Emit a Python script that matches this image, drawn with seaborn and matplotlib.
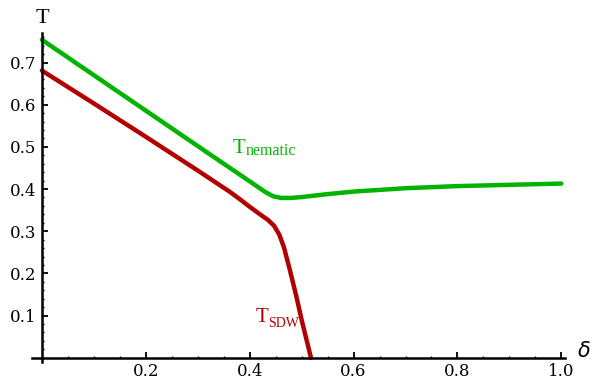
import numpy as np
import pandas as pd
import matplotlib
matplotlib.use("Agg")
from matplotlib import pyplot as plt
from matplotlib.ticker import MultipleLocator, FixedLocator
import seaborn as sns

# values
delta_nem = [0.0, 0.1, 0.2, 0.3, 0.38, 0.41, 0.43, 0.445, 0.46, 0.48, 0.5, 0.55, 0.6, 0.7, 0.8, 0.9, 1.0]
t_nem = [0.754, 0.670, 0.586, 0.502, 0.435, 0.410, 0.393, 0.383, 0.379, 0.379, 0.381, 0.388, 0.394, 0.402, 0.407, 0.410, 0.413]

delta_sdw = [0.0, 0.1, 0.2, 0.3, 0.36, 0.38, 0.40, 0.42, 0.435, 0.447, 0.457, 0.466, 0.477, 0.49, 0.5, 0.518]
t_sdw = [0.681, 0.603, 0.524, 0.444, 0.395, 0.377, 0.358, 0.340, 0.327, 0.313, 0.292, 0.262, 0.210, 0.145, 0.09, 0.0]

xticks = [0.2, 0.4, 0.6, 0.8, 1.0]
yticks = [0.1, 0.2, 0.3, 0.4, 0.5, 0.6, 0.7]

green = "#00b400"
red = "#b20000"

df = pd.DataFrame({
    "delta": delta_nem + delta_sdw,
    "T": t_nem + t_sdw,
    "phase": ["nematic"] * len(delta_nem) + ["SDW"] * len(delta_sdw),
})

sns.set_style("white")
plt.rcParams["font.family"] = ["DejaVu Serif"]
plt.rcParams["text.color"] = "black"

fig = plt.figure(figsize=(5.98, 3.81), dpi=100)
ax = fig.add_axes([0.0535, 0.0499, 0.8913, 0.8635])

sns.lineplot(data=df, x="delta", y="T", hue="phase",
             palette={"nematic": green, "SDW": red},
             estimator=None, sort=False, linewidth=3.2, legend=False, ax=ax)

ax.set_xlim(-0.019, 1.007)
ax.set_ylim(-0.01, 0.77)

for s in ["top", "right"]:
    ax.spines[s].set_visible(False)
for s in ["left", "bottom"]:
    ax.spines[s].set_position(("data", 0))
    ax.spines[s].set_linewidth(1.8)
    ax.spines[s].set_color("black")

ax.xaxis.set_major_locator(FixedLocator(xticks))
ax.yaxis.set_major_locator(FixedLocator(yticks))
ax.xaxis.set_minor_locator(MultipleLocator(0.05))
ax.yaxis.set_minor_locator(MultipleLocator(0.02))
ax.set_xticklabels(["%.1f" % v for v in xticks])
ax.set_yticklabels(["%.1f" % v for v in yticks])
ax.tick_params(axis="x", which="both", bottom=True)
ax.tick_params(axis="y", which="both", left=True)
ax.tick_params(which="major", direction="in", length=4, width=1.3, labelsize=12, pad=4,
               colors="black", labelcolor="black")
ax.tick_params(which="minor", direction="in", length=1.6, width=1.0, colors="black")
ax.set_xlabel("")
ax.set_ylabel("")

serif = ["Liberation Serif", "DejaVu Serif"]
ax.text(-0.012, 0.794, "T", fontsize=16, family=serif, ha="left", va="baseline", clip_on=False)
ax.text(1.03, 0.002, r"$\delta$", fontsize=15, ha="left", va="baseline", clip_on=False)

ax.text(0.368, 0.486, "T", fontsize=15, family=serif, color=green, va="baseline")
ax.text(0.392, 0.480, "nematic", fontsize=11.5, family=serif, color=green, va="baseline")
ax.text(0.411, 0.085, "T", fontsize=15, family=serif, color=red, va="baseline")
ax.text(0.436, 0.073, "SDW", fontsize=10, family=serif, color=red, va="baseline")

plt.savefig("out.png", dpi=100)
